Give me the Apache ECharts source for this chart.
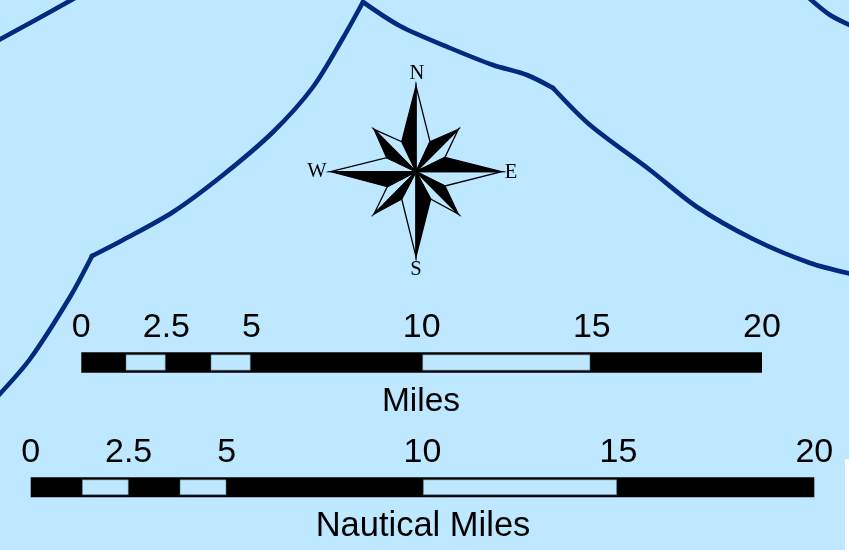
<!DOCTYPE html>
<html>
<head>
<meta charset="utf-8">
<style>html,body{margin:0;padding:0;background:#BEE8FF}#c{width:849px;height:550px}</style>
<script src="https://cdn.jsdelivr.net/npm/echarts@6/dist/echarts.min.js"></script>
</head>
<body>
<div id="c"></div>
<script>
const coastA = [[-3,41],[30,23],[75,-2]];
const coastB1 = [[-3,397],[30,359],[70,297],[92,256]];
const coastB2 = [[92,256],[123,240],[173,212],[223,175],[273,132],[313,87],[343,38],[363,2]];
const coastB3 = [[363,2],[400,26],[450,48],[493,65],[527,75],[553,88]];
const coastB4 = [[553,88],[590,125],[650,170],[697,207],[753,239],[810,263],[852,274]];
const coastC = [[809,-2],[830,15],[852,26]];

const tickValues = [0, 2.5, 5, 10, 15, 20];
const milesLight = [[1.313,2.468],[3.81,4.965],[10.03,14.945]];
const nauticalLight = [[1.317,2.491],[3.811,4.985],[10.02,14.956]];
const barFull = [[0,20]];

const roseCentre = [416,171.7];
const roseTips = [[416,86],[458.3,129.3],[501.7,171.7],[458.3,214],[416,256.7],[374,214],[330.7,171.7],[374,129.3]];
const roseNotchBefore = [[401.7,141.7],[430,141.7],[445,157.3],[445,186],[430.7,199],[401.7,199],[387.3,186.7],[386.7,157.7]];
const roseNotchAfter = [[430,141.7],[445,157.3],[445,186],[430.7,199],[401.7,199],[387.3,186.7],[386.7,157.7],[401.7,141.7]];
const roseLetters = [['N',417,74],['E',511,173],['S',416,270],['W',317,172]];
const cornerPatch = [[845,459,849,550]];
const coastColor = '#002B7F', sea = '#BEE8FF';

function poly(api, pts, fill, stroke, lw){
  return {type:'polygon', shape:{points:pts.map(p=>api.coord(p))}, style:{fill:fill, stroke:stroke, lineWidth:lw, lineJoin:'miter'}};
}
function barRender(params, api){
  const a = api.coord([api.value(0),1]), b = api.coord([api.value(1),0]);
  return {type:'rect', shape:{x:a[0],y:a[1],width:b[0]-a[0],height:b[1]-a[1]}, style:{fill:'#000'}};
}
function lightRender(params, api){
  const a = api.coord([api.value(0),1]), b = api.coord([api.value(1),0]);
  return {type:'rect', shape:{x:a[0],y:a[1]+2.5,width:b[0]-a[0],height:b[1]-a[1]-5},
    style:{fill:sea, stroke:'#4f6b7a', lineWidth:0.5}};
}
function coast(data){
  return {type:'line', xAxisIndex:0, yAxisIndex:0, data:data, showSymbol:false, silent:true, smooth:0.3,
    lineStyle:{color:coastColor,width:4.6,join:'round',cap:'round'}, animation:false, z:2};
}
function scaleAxis(grid){
  return {gridIndex:grid, type:'value', min:0, max:20, position:'top',
    axisLine:{show:false}, axisTick:{show:false}, splitLine:{show:false},
    axisLabel:{show:true, customValues:tickValues, margin:8, color:'#000', fontFamily:'Liberation Sans', fontSize:34,
      showMinLabel:true, showMaxLabel:true, hideOverlap:false,
      formatter:v=>String(v)}};
}
const hiddenY = g => ({gridIndex:g,type:'value',min:0,max:1,show:false});

const chart = echarts.init(document.getElementById('c'),null,{renderer:'canvas'});
chart.setOption({
  animation:false,
  backgroundColor:sea,
  title:[
    {text:'Miles',left:421,top:385,textAlign:'center',textStyle:{fontFamily:'Liberation Sans',fontWeight:'normal',fontSize:33.5,color:'#000'},padding:0},
    {text:'Nautical Miles',left:423,top:509,textAlign:'center',textStyle:{fontFamily:'Liberation Sans',fontWeight:'normal',fontSize:34.5,color:'#000'},padding:0}
  ],
  grid:[
    {left:0,top:0,width:849,height:550},
    {left:81.3,width:680.7,top:352.3,height:20.4},
    {left:30.7,width:783.6,top:477.3,height:20}
  ],
  xAxis:[
    {gridIndex:0,type:'value',min:0,max:849,show:false},
    scaleAxis(1),
    scaleAxis(2)
  ],
  yAxis:[
    {gridIndex:0,type:'value',min:0,max:550,inverse:true,show:false},
    hiddenY(1),
    hiddenY(2)
  ],
  series:[
    coast(coastA),coast(coastB1),coast(coastB2),coast(coastB3),coast(coastB4),coast(coastC),
    {type:'custom',xAxisIndex:0,yAxisIndex:0,data:cornerPatch,silent:true,z:1,
      renderItem:(p,api)=>{
        const a=api.coord([api.value(0),api.value(1)]),b=api.coord([api.value(2),api.value(3)]);
        return {type:'rect',shape:{x:a[0],y:a[1],width:b[0]-a[0],height:b[1]-a[1]},style:{fill:'#fff'}};
      }},
    {type:'custom',xAxisIndex:1,yAxisIndex:1,data:barFull,silent:true,z:3,renderItem:barRender},
    {type:'custom',xAxisIndex:1,yAxisIndex:1,data:milesLight,silent:true,z:4,renderItem:lightRender},
    {type:'custom',xAxisIndex:2,yAxisIndex:2,data:barFull,silent:true,z:3,renderItem:barRender},
    {type:'custom',xAxisIndex:2,yAxisIndex:2,data:nauticalLight,silent:true,z:4,renderItem:lightRender},
    {type:'custom',xAxisIndex:0,yAxisIndex:0,data:roseTips.map((t,i)=>[i]),silent:true,z:5,
      renderItem:(p,api)=>{
        const i=api.value(0), t=roseTips[i];
        return {type:'group',children:[
          poly(api,[roseCentre,t,roseNotchAfter[i]],sea,'#000',1.3),
          poly(api,[roseCentre,t,roseNotchBefore[i]],'#000','#000',1.2)
        ]};
      }},
    {type:'custom',xAxisIndex:0,yAxisIndex:0,data:roseLetters.map(l=>[l[1],l[2]]),silent:true,z:6,
      renderItem:(p,api)=>{
        const c=api.coord([api.value(0),api.value(1)]);
        return {type:'text',style:{text:roseLetters[p.dataIndex][0],x:c[0],y:c[1],align:'center',verticalAlign:'middle',
          fill:'#000',font:'20.5px "Liberation Serif"'}};
      }}
  ]
});
</script>
</body>
</html>
